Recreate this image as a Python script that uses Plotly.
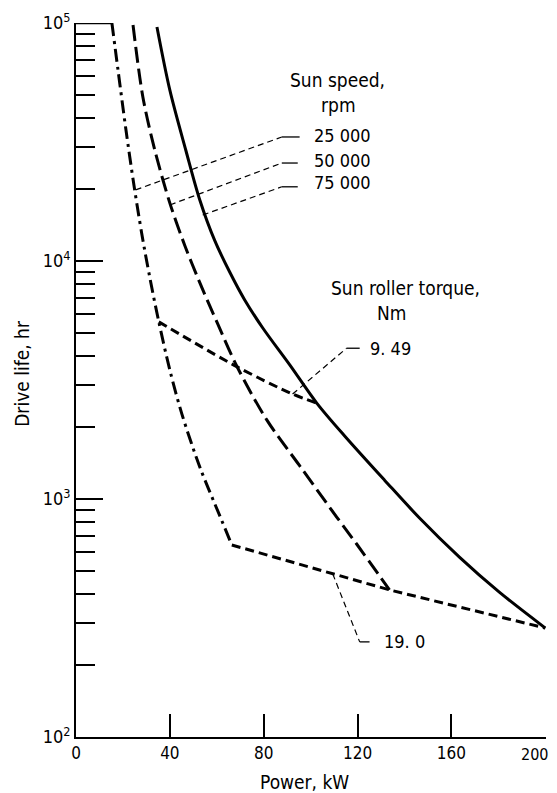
import plotly.graph_objects as go
import math

# ---------------- data ----------------
power_25k = [15.3, 17.9, 21.3, 24.7, 28.1, 31.5, 35.3, 40.0, 45.1, 52.8, 61.3, 66.4]
life_25k = [100000, 63500, 35500, 20800, 12900, 8480, 5550, 3480, 2280, 1360, 849, 641]

power_50k = [24.3, 28.5, 33.6, 40.0, 46.4, 52.8, 60.4, 68.5, 81.3, 95.3, 111.1, 119.6, 133.6]
life_50k = [98100, 48900, 29200, 17500, 11600, 8090, 5440, 3620, 2150, 1380, 840, 647, 415]

power_75k = [34.5, 40.0, 46.8, 52.8, 59.1, 65.5, 71.9, 79.6, 91.1, 102.6, 114.5, 131.5, 146.4, 163.4, 180.4, 200.0]
life_75k = [96200, 52200, 29200, 18000, 12200, 8990, 6860, 5230, 3660, 2530, 1840, 1200, 832, 570, 406, 287]

power_t949 = [35.3, 68.5, 92.3, 102.6]
life_t949 = [5550, 3600, 2760, 2530]

power_t190 = [66.4, 133.6, 200.0]
life_t190 = [641, 415, 287]

top_cap_power = [0.0, 15.3]
top_cap_life = [100000, 100000]

speed_labels = ["25 000", "50 000", "75 000"]
speed_leader_power = [[25.4, 87.7], [40.0, 87.7], [54.0, 87.7]]
speed_leader_life = [[19900, 33200], [17200, 25800], [15600, 20500]]
speed_tail_power = [[87.7, 95.3], [87.7, 94.5], [87.7, 94.5]]
speed_tail_life = [[33200, 33200], [25800, 25800], [20500, 20500]]
speed_label_power = [100.4, 100.4, 100.4]
speed_label_life = [33800, 26500, 21300]

torque_labels = ["9. 49", "19. 0"]
torque_leader_power = [[92.3, 115.3], [109.4, 120.9]]
torque_leader_life = [[2760, 4300], [485, 251]]
torque_tail_power = [[115.3, 120.9], [120.9, 125.1]]
torque_tail_life = [[4300, 4300], [251, 251]]
torque_label_power = [124.3, 130.2]
torque_label_life = [4300, 251]

x_ticks = [0, 40, 80, 120, 160, 200]
x_ticktext = ["0", "40", "80", "120", "160", ""]   # last label drawn separately (edge)
x_last_label = "200"
y_ticks = [100, 1000, 10000, 100000]
y_ticktext = ["10<sup>2</sup>", "10<sup>3</sup>", "10<sup>4</sup>", "10<sup>5</sup>"]
y_minor = [m * 10 ** e for e in range(2, 5) for m in range(2, 10)]

FONT = "DejaVu Sans Condensed, Liberation Sans Narrow, sans-serif"

fig = go.Figure()

def curve(x, y, dash, width=3, shape="spline"):
    fig.add_trace(go.Scatter(x=x, y=y, mode="lines",
                             line=dict(color="black", width=width, dash=dash,
                                       shape=shape, smoothing=0.9),
                             hoverinfo="skip", showlegend=False))

curve(top_cap_power, top_cap_life, "solid", 2.5, "linear")
curve(power_25k, life_25k, "13px,5px,3px,5px")
curve(power_50k, life_50k, "16px,6px")
curve(power_75k, life_75k, "solid")
curve(power_t949, life_t949, "9px,5px")
curve(power_t190, life_t190, "9px,5px", 3, "linear")

for xs, ys in zip(speed_leader_power, speed_leader_life):
    curve(xs, ys, "6px,4px", 1.2, "linear")
for xs, ys in zip(speed_tail_power, speed_tail_life):
    curve(xs, ys, "solid", 1.3, "linear")
for xs, ys in zip(torque_leader_power, torque_leader_life):
    curve(xs, ys, "6px,4px", 1.2, "linear")
for xs, ys in zip(torque_tail_power, torque_tail_life):
    curve(xs, ys, "solid", 1.3, "linear")

ann_font = dict(family=FONT, size=18, color="black")
for lab, px, py in zip(speed_labels, speed_label_power, speed_label_life):
    fig.add_annotation(x=px, y=math.log10(py), text=lab, showarrow=False,
                       xanchor="left", yanchor="middle", font=ann_font)
for lab, px, py in zip(torque_labels, torque_label_power, torque_label_life):
    fig.add_annotation(x=px, y=math.log10(py), text=lab, showarrow=False,
                       xanchor="left", yanchor="middle", font=ann_font)

title_font = dict(family=FONT, size=19, color="black")
fig.add_annotation(x=111.5, y=math.log10(57500), text="Sun speed,", showarrow=False,
                   xanchor="center", yanchor="middle", font=title_font)
fig.add_annotation(x=112.0, y=math.log10(45200), text="rpm", showarrow=False,
                   xanchor="center", yanchor="middle", font=title_font)
fig.add_annotation(x=140.4, y=math.log10(7710), text="Sun roller torque,", showarrow=False,
                   xanchor="center", yanchor="middle", font=title_font)
fig.add_annotation(x=134.5, y=math.log10(6050), text="Nm", showarrow=False,
                   xanchor="center", yanchor="middle", font=title_font)

fig.add_annotation(xref="paper", yref="paper", x=-0.115, y=0.51, text="Drive life, hr",
                   textangle=-90, showarrow=False, xanchor="center", yanchor="middle",
                   font=title_font)
fig.add_annotation(xref="paper", yref="paper", x=0.487, y=-0.063, text="Power, kW",
                   showarrow=False, xanchor="center", yanchor="middle",
                   font=title_font)

# last x tick label, nudged left so it stays inside the window
fig.add_annotation(x=x_ticks[-1], xref="x", yref="paper", y=0, yanchor="middle",
                   yshift=-17, xshift=-11, text=x_last_label, showarrow=False,
                   font=dict(family=FONT, size=16, color="black"))

# page body has an 8px margin: size/margins compensate so the plot area
# sits at x 76..546, y 23..737 in the window
fig.update_layout(
    width=549, height=785,
    margin=dict(l=68, r=11, t=15, b=56, autoexpand=False),
    paper_bgcolor="white", plot_bgcolor="white",
    showlegend=False,
    xaxis=dict(range=[0, 200.3], tickvals=x_ticks, ticktext=x_ticktext,
               ticks="inside", ticklen=23,
               tickwidth=1.5, tickcolor="black", showline=True, linecolor="black",
               linewidth=1.8, showgrid=False, zeroline=False, automargin=False,
               ticklabeloverflow="allow",
               tickfont=dict(family=FONT, size=17, color="black")),
    yaxis=dict(type="log", range=[2, 5], tickvals=y_ticks, ticktext=y_ticktext,
               ticks="inside", ticklen=27, tickwidth=1.8, tickcolor="black",
               showline=True, linecolor="black", linewidth=1.8, showgrid=False,
               zeroline=False, automargin=False,
               tickfont=dict(family=FONT, size=18, color="black"),
               minor=dict(tickmode="array", tickvals=y_minor, ticks="inside",
                          ticklen=19, tickwidth=1.8, tickcolor="black", showgrid=False)),
)

fig.write_html("out.html")
